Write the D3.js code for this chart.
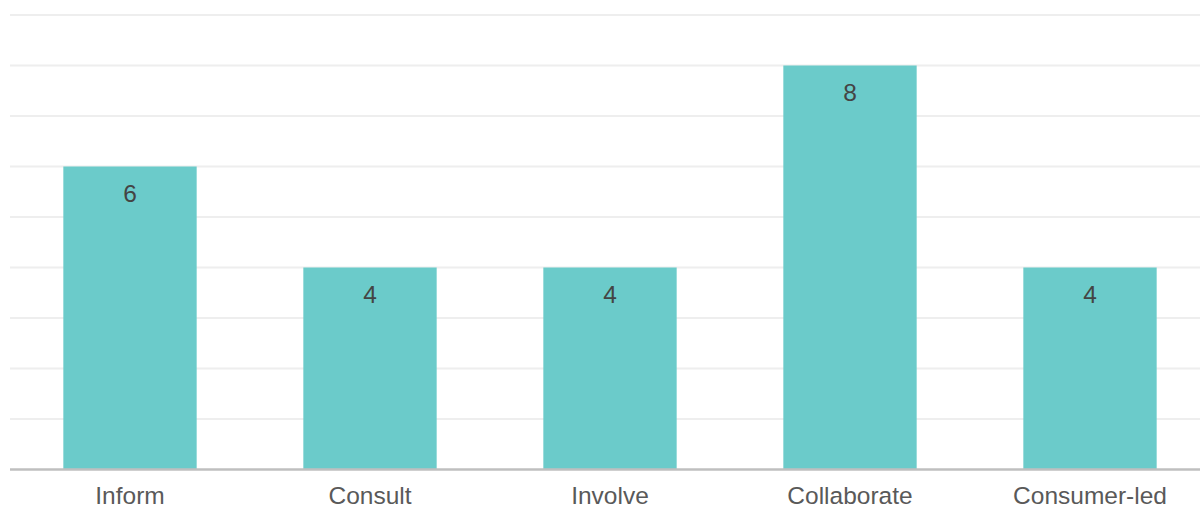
<!DOCTYPE html>
<html><head><meta charset="utf-8">
<script src="https://cdn.jsdelivr.net/npm/d3@7"></script>
<style>html,body{margin:0;padding:0;background:#fff;}svg{display:block;}</style>
</head><body>
<svg id="chart" width="1200" height="509"></svg>
<script>
const categories = ["Inform", "Consult", "Involve", "Collaborate", "Consumer-led"];
const values = [6, 4, 4, 8, 4];
const yTicks = [0, 1, 2, 3, 4, 5, 6, 7, 8, 9];

const svg = d3.select("#chart");
const x = d3.scaleBand().domain(categories).range([10, 1210]).paddingInner(4/9).paddingOuter(2/9);
const y = d3.scaleLinear().domain([0, 9]).range([469.5, 15]);

// gridlines
svg.append("g").selectAll("line").data(yTicks.filter(d => d > 0)).join("line")
  .attr("x1", 10).attr("x2", 1200)
  .attr("y1", d => y(d)).attr("y2", d => y(d))
  .attr("stroke", "#eeeeee").attr("stroke-width", 2);

// bars
svg.append("g").selectAll("rect").data(values).join("rect")
  .attr("x", (d, i) => x(categories[i]))
  .attr("width", x.bandwidth())
  .attr("y", d => y(d))
  .attr("height", d => y(0) - y(d))
  .attr("fill", "#6bcbca");

// baseline
svg.append("line").attr("x1", 10).attr("x2", 1200)
  .attr("y1", y(0)).attr("y2", y(0))
  .attr("stroke", "#bfbfbf").attr("stroke-width", 2.5);

// value labels
svg.append("g").selectAll("text").data(values).join("text")
  .attr("x", (d, i) => x(categories[i]) + x.bandwidth() / 2)
  .attr("y", d => y(d) + 35.5)
  .attr("text-anchor", "middle")
  .attr("font-family", "Liberation Sans, Arial, sans-serif")
  .attr("font-size", 24.5)
  .attr("fill", "#444444")
  .text(d => d);

// category labels
svg.append("g").selectAll("text").data(categories).join("text")
  .attr("x", d => x(d) + x.bandwidth() / 2)
  .attr("y", 504)
  .attr("text-anchor", "middle")
  .attr("font-family", "Liberation Sans, Arial, sans-serif")
  .attr("font-size", 24.5)
  .attr("fill", "#595959")
  .text(d => d);
</script>
</body></html>
